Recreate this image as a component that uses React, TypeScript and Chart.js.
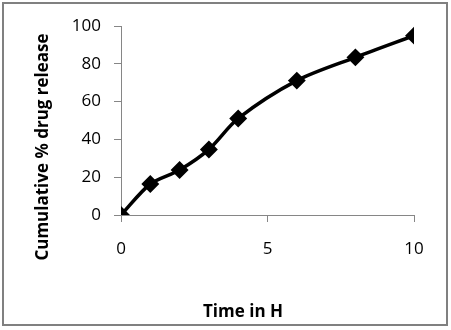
import React, { useEffect, useRef } from "react";
import { Chart, registerables } from "chart.js";

Chart.register(...registerables);

const timeHours = [0, 1, 2, 3, 4, 6, 8, 10];
const cumulativeRelease = [0, 16.4, 23.8, 34.7, 51.1, 71.1, 83.4, 94.9];
const xTitle = "Time in H";
const yTitle = "Cumulative % drug release";

const FONT = "'Open Sans', sans-serif";

const decorPlugin = {
  id: "decor",
  afterDraw(chart: any) {
    const ctx = chart.ctx;
    ctx.save();
    ctx.strokeStyle = "#808080";
    ctx.lineWidth = 2;
    ctx.strokeRect(3, 3, 444, 322);
    ctx.fillStyle = "#000";
    ctx.font = `bold 17px ${FONT}`;
    ctx.textAlign = "center";
    ctx.textBaseline = "middle";
    ctx.fillText(xTitle, 243, 312);
    ctx.translate(43, 147);
    ctx.rotate(-Math.PI / 2);
    ctx.font = `bold 17px ${FONT}`;
    ctx.fillText(yTitle, 0, 0);
    ctx.restore();
  },
};

export default function App() {
  const ref = useRef<HTMLCanvasElement | null>(null);
  useEffect(() => {
    document.body.style.margin = "0";
    const data = timeHours.map((t, i) => ({ x: t, y: cumulativeRelease[i] }));
    const chart = new Chart(ref.current!, {
      type: "line",
      data: {
        datasets: [
          {
            data,
            borderColor: "#000",
            backgroundColor: "#000",
            borderWidth: 3.5,
            pointStyle: "rectRot",
            pointRadius: 6.5,
            pointHoverRadius: 6.5,
            tension: 0.3,
            fill: false,
          },
        ],
      },
      options: {
        responsive: false,
        animation: false,
        events: [],
        layout: { padding: { left: 0, right: 37, top: 26, bottom: 0 } },
        plugins: { legend: { display: false }, tooltip: { enabled: false } },
        scales: {
          x: {
            type: "linear",
            min: 0,
            max: 10,
            ticks: { stepSize: 5, color: "#000", font: { family: FONT, size: 17 }, padding: 17 },
            grid: { drawOnChartArea: false, drawTicks: true, tickLength: 7, color: "#868686" },
            border: { display: true, color: "#868686" },
            title: { display: false },
            afterFit(scale: any) {
              scale.height = 115;
            },
          },
          y: {
            min: 0,
            max: 100,
            ticks: { stepSize: 20, color: "#000", font: { family: FONT, size: 17 }, padding: 13 },
            grid: { drawOnChartArea: false, drawTicks: true, tickLength: 7, color: "#868686" },
            border: { display: true, color: "#868686" },
            title: { display: false },
            afterFit(scale: any) {
              scale.width = 121;
            },
          },
        },
      },
      plugins: [decorPlugin],
    });
    return () => chart.destroy();
  }, []);
  return (
    <div style={{ position: "fixed", left: 0, top: 0, width: 451, height: 330, background: "#fff" }}>
      <canvas ref={ref} width={451} height={330} />
    </div>
  );
}
